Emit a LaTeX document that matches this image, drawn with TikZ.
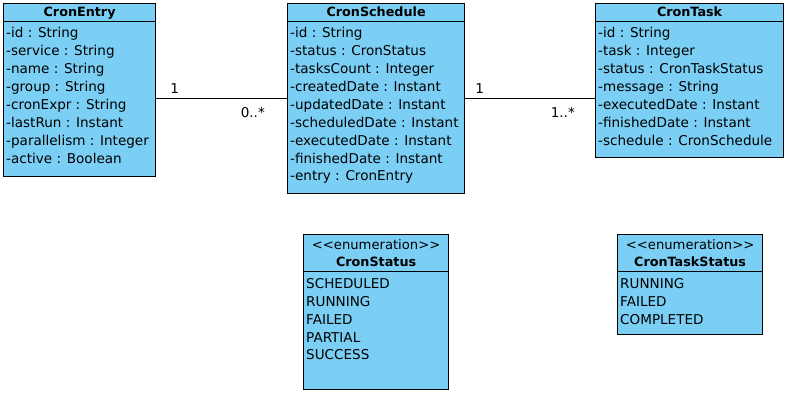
\documentclass[tikz,border=0pt]{standalone}
\usepackage{fontspec}
\setmainfont{DejaVu Sans}
\usetikzlibrary{positioning}

\definecolor{umlblue}{RGB}{123,207,245}

\tikzset{
  classbox/.style={draw=black, fill=umlblue, line width=1.2bp, anchor=north west, inner sep=0pt},
  classname/.style={anchor=north, inner sep=0pt, font=\fontsize{12.8}{14}\selectfont\bfseries},
  stereo/.style={anchor=north, inner sep=0pt, font=\fontsize{13.2}{14}\selectfont},
  attrs/.style={anchor=north west, align=left, inner sep=0pt, font=\fontsize{13.6}{18}\selectfont},
  mult/.style={inner sep=0pt, font=\fontsize{13.6}{14}\selectfont},
  assoc/.style={draw=black, line width=0.9bp}
}

\begin{document}
\begin{tikzpicture}[x=1bp,y=-1bp]
\useasboundingbox (0,0) rectangle (811,406);

% CronEntry
\node[classbox, minimum width=152bp, minimum height=173bp] (entry) at (3,3) {};
\node[classname, below=4bp of entry.north] (entryname) {CronEntry};
\draw[line width=1bp] (entry.north west) ++(0,18) -- ++(152,0);
\node[attrs, below right=24bp and 3bp of entry.north west] (entryattrs) {%
-id : String\\
-service : String\\
-name : String\\
-group : String\\
-cronExpr : String\\
-lastRun : Instant\\
-parallelism : Integer\\
-active : Boolean};

% CronSchedule
\node[classbox, minimum width=177bp, minimum height=190bp] (schedule) at (287,3) {};
\node[classname, below=4bp of schedule.north] (schedulename) {CronSchedule};
\draw[line width=1bp] (schedule.north west) ++(0,18) -- ++(177,0);
\node[attrs, below right=24bp and 3bp of schedule.north west] (scheduleattrs) {%
-id : String\\
-status : CronStatus\\
-tasksCount : Integer\\
-createdDate : Instant\\
-updatedDate : Instant\\
-scheduledDate : Instant\\
-executedDate : Instant\\
-finishedDate : Instant\\
-entry : CronEntry};

% CronTask
\node[classbox, minimum width=188bp, minimum height=154bp] (task) at (595,3) {};
\node[classname, below=4bp of task.north] (taskname) {CronTask};
\draw[line width=1bp] (task.north west) ++(0,18) -- ++(188,0);
\node[attrs, below right=24bp and 3bp of task.north west] (taskattrs) {%
-id : String\\
-task : Integer\\
-status : CronTaskStatus\\
-message : String\\
-executedDate : Instant\\
-finishedDate : Instant\\
-schedule : CronSchedule};

% CronStatus
\node[classbox, minimum width=145bp, minimum height=155bp] (status) at (303,234) {};
\node[stereo, below=5bp of status.north] (statusstereo) {<\kern0pt<enumeration>\kern0pt>};
\node[classname, below=23bp of status.north] (statusname) {CronStatus};
\draw[line width=1bp] (status.north west) ++(0,37) -- ++(145,0);
\node[attrs, below right=44bp and 3bp of status.north west] (statusvals) {%
SCHEDULED\\
RUNNING\\
FAILED\\
PARTIAL\\
SUCCESS};

% CronTaskStatus
\node[classbox, minimum width=145bp, minimum height=100bp] (taskstatus) at (617,234) {};
\node[stereo, below=5bp of taskstatus.north] (taskstatusstereo) {<\kern0pt<enumeration>\kern0pt>};
\node[classname, below=23bp of taskstatus.north] (taskstatusname) {CronTaskStatus};
\draw[line width=1bp] (taskstatus.north west) ++(0,37) -- ++(145,0);
\node[attrs, below right=44bp and 3bp of taskstatus.north west] (taskstatusvals) {%
RUNNING\\
FAILED\\
COMPLETED};

% associations
\coordinate (e1) at (schedule.west -| entry.east);
\coordinate (t1) at (schedule.east -| task.west);
\draw[assoc] (e1) -- (schedule.west);
\draw[assoc] (schedule.east) -- (t1);
\node[mult, above right=5bp and 14bp of e1] (m1) {1};
\node[mult, below left=9bp and 22bp of schedule.west] (m2) {0..*};
\node[mult, above right=5bp and 10bp of schedule.east] (m3) {1};
\node[mult, below left=9bp and 20bp of t1] (m4) {1..*};

\end{tikzpicture}
\end{document}
